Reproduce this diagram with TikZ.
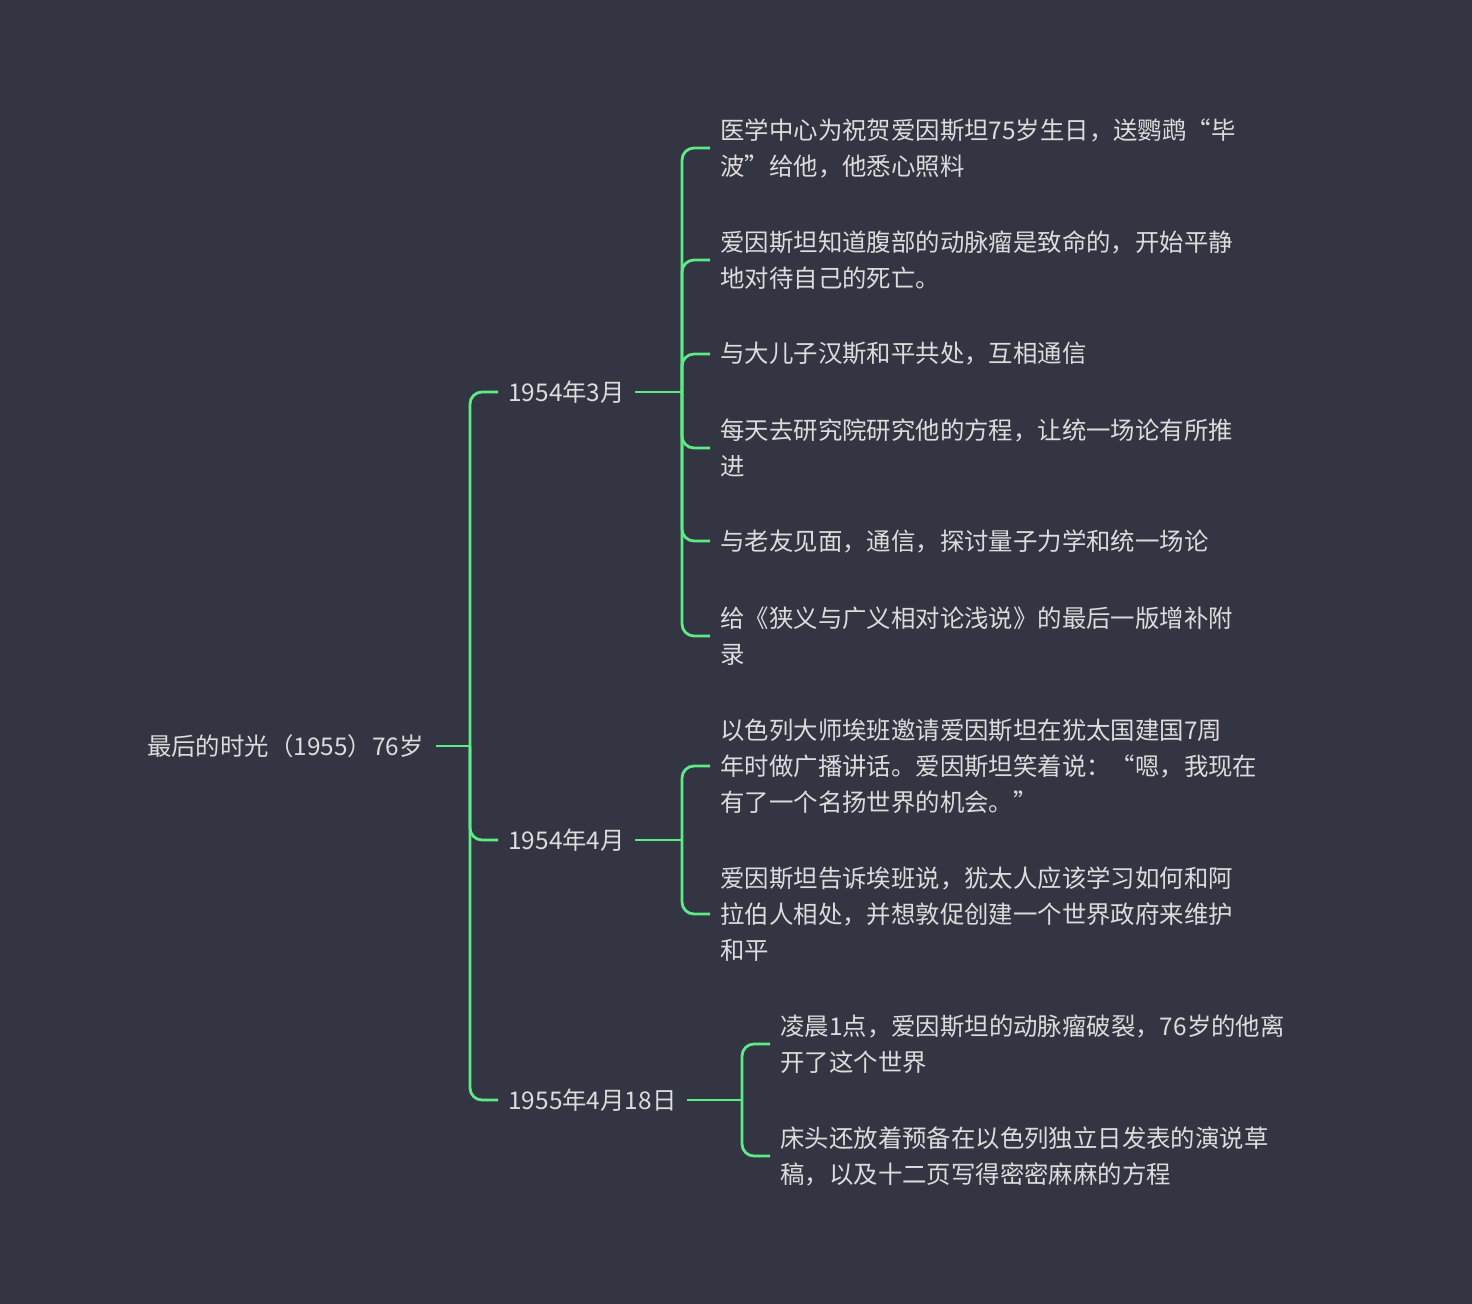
\documentclass[tikz,border=0pt]{standalone}
\usepackage{fontspec}
\setmainfont{Noto Sans CJK SC}
\begin{document}
\definecolor{bg}{HTML}{333542}
\definecolor{ln}{HTML}{5CEB86}
\definecolor{tx}{HTML}{DCDCDC}
\begin{tikzpicture}[x=0.5pt,y=-0.5pt,
  every node/.style={text=tx,font=\fontsize{12.2pt}{18pt}\selectfont,align=left,inner ysep=0pt},
  br/.style={anchor=west,inner xsep=5pt},
  lf/.style={anchor=west,inner xsep=5pt},
  c/.style={draw=ln,line width=1.4pt,rounded corners=6pt}]
\fill[bg] (0,0) rectangle (1472,1304);
\useasboundingbox (0,0) rectangle (1472,1304);
\node[anchor=east,inner xsep=6pt] (root) at (436,746) {最后的时光（1955）76岁};
\node[br] (b1) at (498,392) {1954年3月};
\node[br] (b2) at (498,840) {1954年4月};
\node[br] (b3) at (498,1100) {1955年4月18日};
\node[lf] (l1) at (710,148) {医学中心为祝贺爱因斯坦75岁生日，送鹦鹉“毕\\波”给他，他悉心照料};
\node[lf] (l2) at (710,260) {爱因斯坦知道腹部的动脉瘤是致命的，开始平静\\地对待自己的死亡。};
\node[lf] (l3) at (710,354) {与大儿子汉斯和平共处，互相通信};
\node[lf] (l4) at (710,448) {每天去研究院研究他的方程，让统一场论有所推\\进};
\node[lf] (l5) at (710,541) {与老友见面，通信，探讨量子力学和统一场论};
\node[lf] (l6) at (710,636) {给《狭义与广义相对论浅说》的最后一版增补附\\录};
\node[lf] (m1) at (710,766) {以色列大师埃班邀请爱因斯坦在犹太国建国7周\\年时做广播讲话。爱因斯坦笑着说：“嗯，我现在\\有了一个名扬世界的机会。”};
\node[lf] (m2) at (710,914) {爱因斯坦告诉埃班说，犹太人应该学习如何和阿\\拉伯人相处，并想敦促创建一个世界政府来维护\\和平};
\node[lf] (n1) at (770,1044) {凌晨1点，爱因斯坦的动脉瘤破裂，76岁的他离\\开了这个世界};
\node[lf] (n2) at (770,1156) {床头还放着预备在以色列独立日发表的演说草\\稿，以及十二页写得密密麻麻的方程};
\coordinate (j0) at (470,746);
\coordinate (j1) at (682,392);
\coordinate (j2) at (682,840);
\coordinate (j3) at (742,1100);
\draw[c] (root.east) -- (j0);
\foreach \b in {b1,b2,b3} \draw[c] (j0) |- (\b.west);
\draw[c] (b1.east) -- (j1);
\foreach \l in {l1,l2,l3,l4,l5,l6} \draw[c] (j1) |- (\l.west);
\draw[c] (b2.east) -- (j2);
\foreach \l in {m1,m2} \draw[c] (j2) |- (\l.west);
\draw[c] (b3.east) -- (j3);
\foreach \l in {n1,n2} \draw[c] (j3) |- (\l.west);
\end{tikzpicture}
\end{document}
